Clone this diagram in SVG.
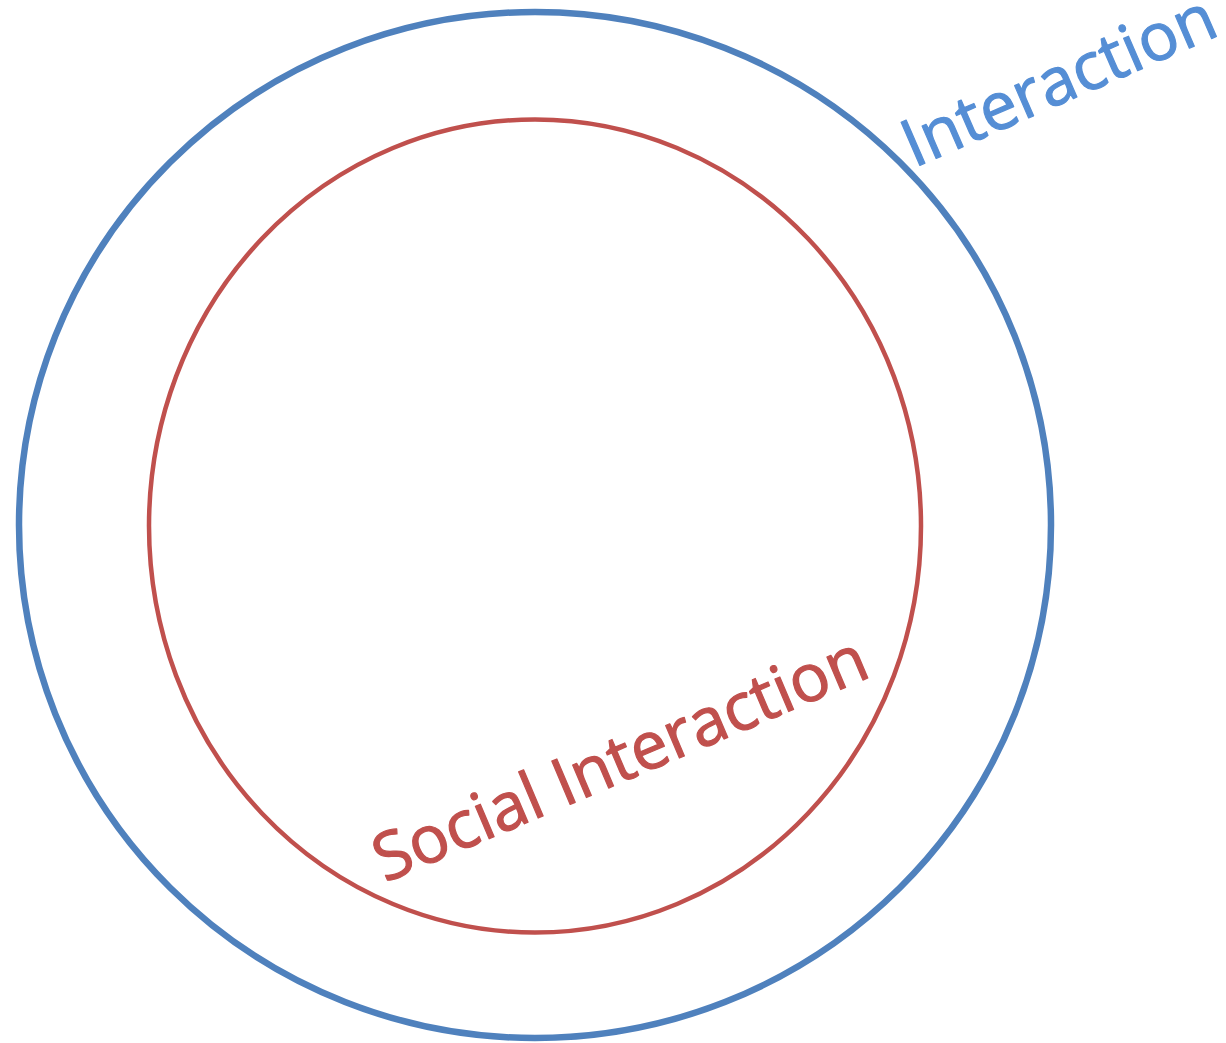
<svg xmlns="http://www.w3.org/2000/svg" width="1226" height="1043" viewBox="0 0 1226 1043">
<style>
.lbl{font-family:"Open Sans","Liberation Sans",sans-serif;font-size:66px;font-weight:400;stroke-width:1.2;stroke-linejoin:round}
</style>
<rect width="1226" height="1043" fill="#ffffff"/>
<g id="interaction">
<ellipse cx="535" cy="525" rx="516" ry="513" fill="none" stroke="#4F81BD" stroke-width="6.5"/>
<text class="lbl" fill="#558ED5" stroke="#558ED5" transform="translate(914,168) rotate(-23.5)">Interaction</text>
</g>
<g id="social-interaction">
<ellipse cx="535" cy="526" rx="386" ry="406.5" fill="none" stroke="#C0504D" stroke-width="4.5"/>
<text class="lbl" fill="#C0504D" stroke="#C0504D" transform="translate(385,883) rotate(-23)">Social Interaction</text>
</g>
<g id="connectors"></g>
</svg>
